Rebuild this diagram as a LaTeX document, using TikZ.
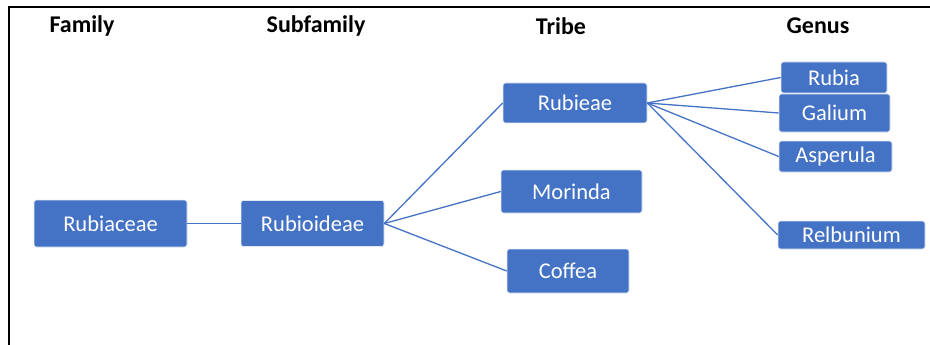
\documentclass[tikz,border=0pt]{standalone}
\usepackage{fontspec}
\setmainfont{Carlito}
\usetikzlibrary{positioning}
\definecolor{boxblue}{HTML}{4472C4}
\newcommand{\lnk}[2]{\path (#1.east) edge (#2.west); }

\begin{document}
\begin{tikzpicture}[x=1pt,y=-1pt,
  every edge/.style={draw=boxblue,line width=1.3pt},
  taxon/.style={fill=boxblue,draw=white!85!boxblue,line width=0.6pt,rounded corners=2.5pt,
    text=white,inner sep=0pt,font=\fontsize{22.5}{26}\selectfont},
  rank/.style={font=\fontsize{24}{28}\selectfont\bfseries}]
  \useasboundingbox (0,0) rectangle (930,345);
  \draw[line width=2pt] (930,7) -- (9,7) -- (9,345);
  \node[rank] (family) at (82,26) {Family};
  \node[rank] (subfamily) at (316,26) {Subfamily};
  \node[rank] (tribe) at (561,26) {Tribe};
  \node[rank] (genus) at (818,26) {Genus};
  \node[taxon,minimum width=153pt,minimum height=47pt] (rubiaceae) at (110.5,223.5) {Rubiaceae};
  \node[taxon,minimum width=143pt,minimum height=46pt] (rubioideae) at (312.5,223.5) {Rubioideae};
  \node[taxon,minimum width=144pt,minimum height=40pt] (rubieae) at (575,103) {Rubieae};
  \node[taxon,minimum width=141pt,minimum height=43pt] (morinda) at (571.5,191.5) {Morinda};
  \node[taxon,minimum width=122pt,minimum height=44pt] (coffea) at (568,271) {Coffea};
  \node[taxon,minimum width=106pt,minimum height=31pt] (rubia) at (834,77.5) {Rubia};
  \node[taxon,minimum width=111pt,minimum height=38pt] (galium) at (834.5,113) {Galium};
  \node[taxon,minimum width=113pt,minimum height=31pt] (asperula) at (835.5,156.5) {Asperula};
  \node[taxon,minimum width=147pt,minimum height=28pt] (relbunium) at (851.5,235) {Relbunium};
  \lnk{rubiaceae}{rubioideae}
  \lnk{rubioideae}{rubieae}
  \lnk{rubioideae}{morinda}
  \lnk{rubioideae}{coffea}
  \lnk{rubieae}{rubia}
  \lnk{rubieae}{galium}
  \lnk{rubieae}{asperula}
  \lnk{rubieae}{relbunium}
\end{tikzpicture}
\end{document}
